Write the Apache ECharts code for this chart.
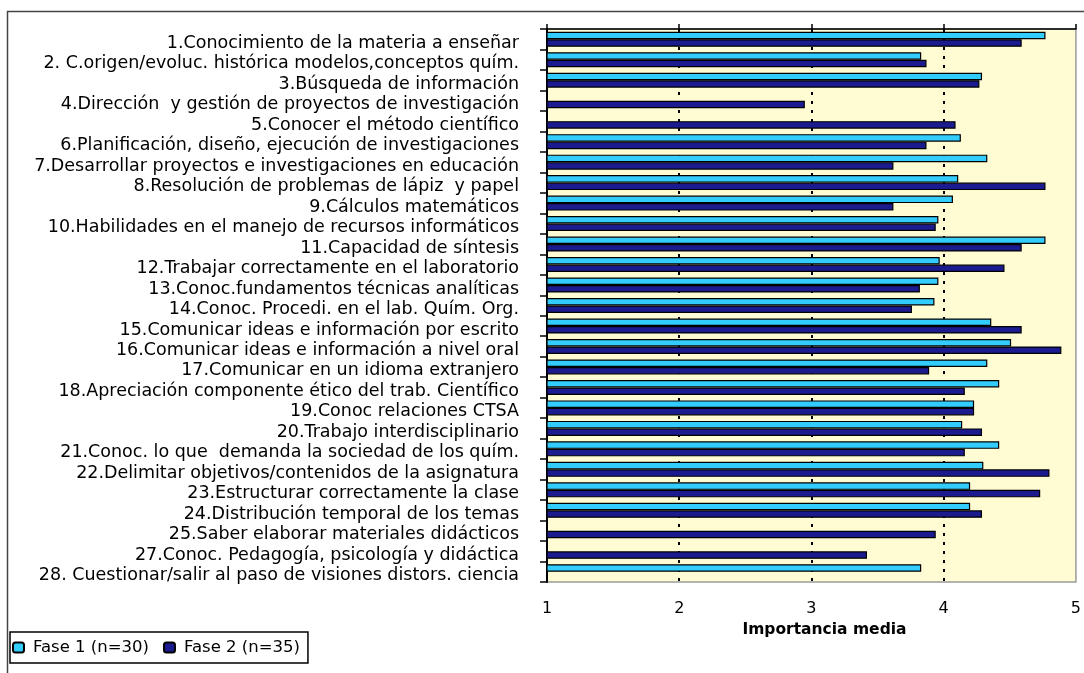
<!DOCTYPE html>
<html>
<head>
<meta charset="utf-8">
<script src="https://cdn.jsdelivr.net/npm/echarts@6/dist/echarts.min.js"></script>
<style>html,body{margin:0;padding:0;background:#fff;}#c{width:1084px;height:673px;}</style>
</head>
<body>
<div id="c"></div>
<script>
const categories = [
  "1.Conocimiento de la materia a enseñar",
  "2. C.origen/evoluc. histórica modelos,conceptos quím.",
  "3.Búsqueda de información",
  "4.Dirección  y gestión de proyectos de investigación",
  "5.Conocer el método científico",
  "6.Planificación, diseño, ejecución de investigaciones",
  "7.Desarrollar proyectos e investigaciones en educación",
  "8.Resolución de problemas de lápiz  y papel",
  "9.Cálculos matemáticos",
  "10.Habilidades en el manejo de recursos informáticos",
  "11.Capacidad de síntesis",
  "12.Trabajar correctamente en el laboratorio",
  "13.Conoc.fundamentos técnicas analíticas",
  "14.Conoc. Procedi. en el lab. Quím. Org.",
  "15.Comunicar ideas e información por escrito",
  "16.Comunicar ideas e información a nivel oral",
  "17.Comunicar en un idioma extranjero",
  "18.Apreciación componente ético del trab. Científico",
  "19.Conoc relaciones CTSA",
  "20.Trabajo interdisciplinario",
  "21.Conoc. lo que  demanda la sociedad de los quím.",
  "22.Delimitar objetivos/contenidos de la asignatura",
  "23.Estructurar correctamente la clase",
  "24.Distribución temporal de los temas",
  "25.Saber elaborar materiales didácticos",
  "27.Conoc. Pedagogía, psicología y didáctica",
  "28. Cuestionar/salir al paso de visiones distors. ciencia"
];
const fase1 = [4.77, 3.83, 4.29, null, null, 4.13, 4.33, 4.11, 4.07, 3.96, 4.77, 3.97, 3.96, 3.93,
               4.36, 4.51, 4.33, 4.42, 4.23, 4.14, 4.42, 4.30, 4.20, 4.20, null, null, 3.83];
const fase2 = [4.59, 3.87, 4.27, 2.95, 4.09, 3.87, 3.62, 4.77, 3.62, 3.94, 4.59, 4.46, 3.82, 3.76,
               4.59, 4.89, 3.89, 4.16, 4.23, 4.29, 4.16, 4.80, 4.73, 4.29, 3.94, 3.42, null];
const seriesNames = ["Fase 1 (n=30)", "Fase 2 (n=35)"];
const xTicks = [1, 2, 3, 4, 5];
const axisTitle = "Importancia media";

const FONT = "DejaVu Sans";
const chart = echarts.init(document.getElementById('c'), null, {renderer: 'canvas'});
chart.setOption({
  animation: false,
  backgroundColor: '#ffffff',
  graphic: [{
    type: 'polyline', silent: true, z: 0,
    shape: {points: [[7.5, 680], [7.5, 11.5], [1090, 11.5]]},
    style: {stroke: '#444', lineWidth: 1.5, fill: null}
  }],
  grid: {
    left: 547, right: 7, top: 29, bottom: 91,
    show: true, backgroundColor: '#FFFCD4', borderColor: '#9a9a9a', borderWidth: 1.5
  },
  legend: {
    data: seriesNames,
    left: 10, top: 632, orient: 'horizontal',
    backgroundColor: '#fff', borderColor: '#000', borderWidth: 1.5,
    padding: [7, 8, 7, 2],
    itemWidth: 11, itemHeight: 10, itemGap: 14,
    textStyle: {fontFamily: FONT, fontSize: 16.5, color: '#000', padding: [0, 0, 0, 4]}
  },
  xAxis: [{
    type: 'value', position: 'top', min: xTicks[0], max: xTicks[xTicks.length - 1], interval: 1,
    axisLine: {show: true, lineStyle: {color: '#000', width: 1.5}},
    axisTick: {show: true, length: 5, lineStyle: {color: '#000', width: 1.5}},
    axisLabel: {show: false},
    splitLine: {show: true, showMinLine: false, showMaxLine: false,
                lineStyle: {color: '#000', width: 2, type: [3, 6]}}
  }, {
    type: 'value', position: 'bottom', min: xTicks[0], max: xTicks[xTicks.length - 1], interval: 1,
    axisLine: {show: false}, axisTick: {show: false}, splitLine: {show: false},
    axisLabel: {show: true, margin: 19, color: '#000', fontFamily: FONT, fontSize: 16},
    name: axisTitle, nameLocation: 'middle', nameGap: 40,
    nameTextStyle: {fontFamily: FONT, fontSize: 15.5, fontWeight: 'bold', color: '#000', padding: [0, 0, 0, 26]}
  }],
  yAxis: {
    type: 'category', inverse: true, data: categories,
    axisLine: {show: true, lineStyle: {color: '#000', width: 2}},
    axisTick: {show: true, length: 7, interval: 0, lineStyle: {color: '#000', width: 1.5}},
    axisLabel: {
      interval: 0, margin: 28,
      formatter: function (v) { return '{t|' + v + '}'; },
      rich: {t: {color: '#000', fontFamily: FONT, fontSize: 17.5, padding: [8, 0, 0, 0]}}
    },
    splitLine: {show: false}
  },
  series: [{
    name: seriesNames[0], type: 'bar', data: fase1, xAxisIndex: 0,
    barWidth: 7.5, barGap: '0%',
    itemStyle: {color: '#33CCFF', borderColor: '#000', borderWidth: 1.2}
  }, {
    name: seriesNames[1], type: 'bar', data: fase2, xAxisIndex: 0,
    barWidth: 7.5, barGap: '0%',
    itemStyle: {color: '#1B1B8F', borderColor: '#000', borderWidth: 1.2}
  }]
});
</script>
</body>
</html>
